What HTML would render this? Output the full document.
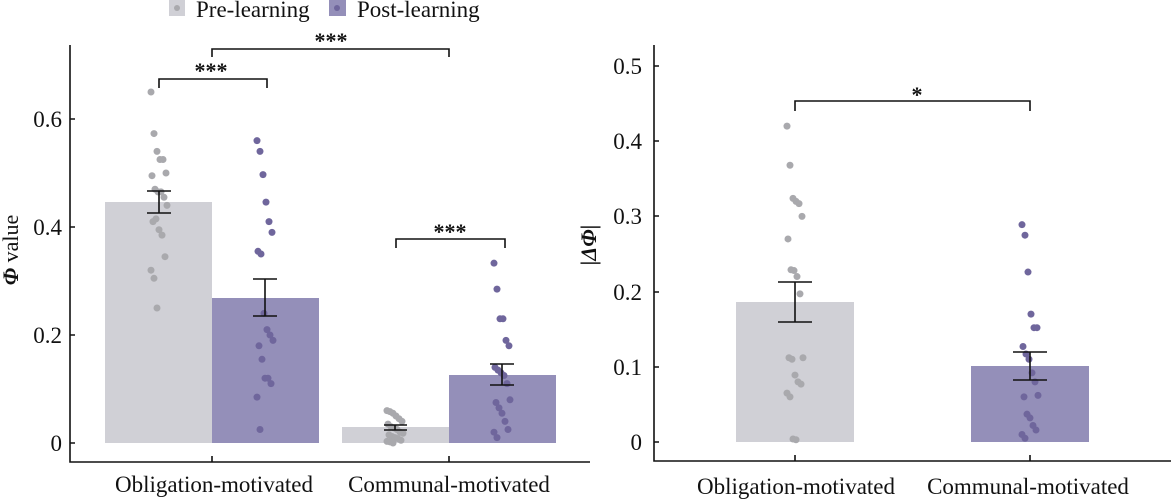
<!DOCTYPE html>
<html><head><meta charset="utf-8"><style>
html,body{margin:0;padding:0;background:#fff;width:1171px;height:500px;overflow:hidden}
svg text{font-family:"Liberation Serif",serif;fill:#111}
</style></head><body>
<svg id="s" width="1171" height="500" xmlns="http://www.w3.org/2000/svg">
<rect x="169" y="0" width="16" height="16" fill="#d0d0d6"/><circle cx="177" cy="8" r="3" fill="#a9a9ad"/>
<text x="196" y="17" font-size="23">Pre-learning</text>
<rect x="329" y="0" width="17" height="16" fill="#948fb9"/><circle cx="337" cy="8" r="3" fill="#6f669c"/>
<text x="357" y="17" font-size="23">Post-learning</text>
<rect x="105" y="202" width="107" height="241" fill="#d0d0d6"/>
<rect x="212" y="298" width="107" height="145" fill="#948fb9"/>
<rect x="342" y="427" width="107" height="16" fill="#d0d0d6"/>
<rect x="449" y="375" width="107" height="68" fill="#948fb9"/>
<rect x="736" y="302" width="118" height="140" fill="#d0d0d6"/>
<rect x="971" y="366" width="118" height="76" fill="#948fb9"/>
<g id="dots"></g>
<g stroke="#111" stroke-width="1.6" fill="none">
<path d="M70 45V462H590"/>
<path d="M70 443h5M70 335h5M70 227h5M70 119h5M212 462v-6M449 462v-6"/>
<path d="M654 45V461H1171"/>
<path d="M654 442h5M654 367h5M654 292h5M654 216h5M654 141h5M654 66h5M795 461v-6M1030 461v-6"/>
<path d="M159 191v22M147 191h24M147 213h24"/>
<path d="M265 279v37M253 279h24M253 316h24"/>
<path d="M395 425v5M384 425h23M384 430h23"/>
<path d="M502 364v21M490 364h24M490 385h24"/>
<path d="M795 282v40M778 282h34M778 322h34"/>
<path d="M1030 352v28M1013 352h34M1013 380h34"/>
<path d="M212 57V49H449V57"/>
<path d="M159 88V79H267V88"/>
<path d="M396 248V239H505V248"/>
<path d="M795 111V101H1030V111"/>
</g>
<g font-size="23" text-anchor="end">
<text x="62" y="451">0</text><text x="62" y="343">0.2</text><text x="62" y="235">0.4</text><text x="62" y="127">0.6</text>
<text x="642" y="450">0</text><text x="642" y="375">0.1</text><text x="642" y="300">0.2</text><text x="642" y="224">0.3</text><text x="642" y="149">0.4</text><text x="642" y="74">0.5</text>
</g>
<g font-size="23" text-anchor="middle">
<text x="214" y="492">Obligation-motivated</text><text x="449" y="492">Communal-motivated</text>
<text x="796" y="494">Obligation-motivated</text><text x="1028" y="494">Communal-motivated</text>
</g>
<g font-size="22" font-weight="bold" text-anchor="middle">
<text x="331" y="48">***</text><text x="211" y="78">***</text><text x="450" y="239">***</text><text x="917" y="102">*</text>
</g>
<text transform="translate(18,250) rotate(-90)" font-size="22" text-anchor="middle"><tspan font-style="italic" font-weight="bold">Φ</tspan> value</text>
<text transform="translate(596,245) rotate(-90)" font-size="22" text-anchor="middle" font-style="italic" font-weight="bold">|ΔΦ|</text>
</svg>
<script>
var g=document.getElementById('dots'),NS='http://www.w3.org/2000/svg';
function add(cx,base,scale,vals,col){vals.forEach(function(v,i){var c=document.createElementNS(NS,'circle');var j=((i*37)%17-8)*1.0;c.setAttribute('cx',cx+j);c.setAttribute('cy',base-v*scale);c.setAttribute('r',3.5);c.setAttribute('fill',col);g.appendChild(c);});}
var G='#a9a9ad',P='#6f669c';
add(159,443,540,[.65,.573,.54,.525,.525,.5,.495,.47,.465,.465,.455,.44,.41,.415,.395,.385,.345,.32,.305,.25],G);
add(265,443,540,[.56,.54,.497,.446,.41,.39,.355,.35,.24,.21,.2,.19,.18,.155,.12,.12,.11,.085,.025],P);
add(395,443,540,[.06,.058,.055,.05,.045,.04,.035,.03,.028,.025,.02,.018,.015,.012,.01,.008,.005,.003,.002,0],G);
add(502,443,540,[.333,.285,.23,.23,.19,.18,.14,.135,.13,.125,.11,.08,.075,.065,.055,.04,.025,.02,.01],P);
add(795,442,752,[.42,.368,.324,.32,.317,.3,.27,.229,.228,.22,.197,.112,.112,.11,.089,.08,.077,.065,.06,.004,.003],G);
add(1030,442,752,[.289,.275,.226,.17,.152,.152,.127,.117,.11,.092,.08,.062,.06,.037,.032,.022,.016,.01,.005],P);
</script>
</body></html>
